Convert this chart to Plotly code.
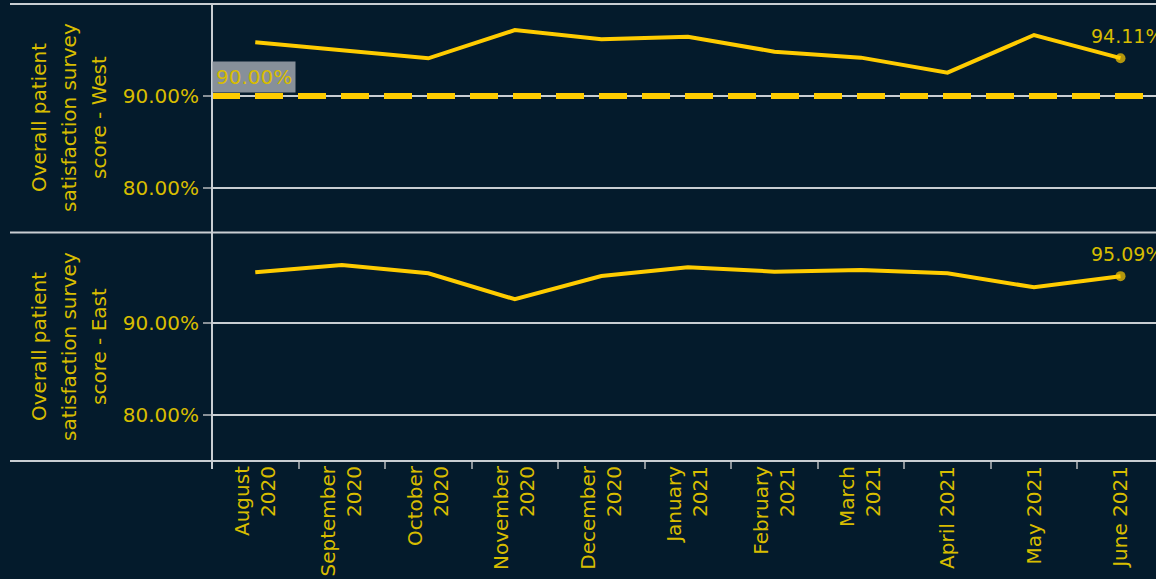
import plotly.graph_objects as go

months = ["August<br>2020", "September<br>2020", "October<br>2020", "November<br>2020",
          "December<br>2020", "January<br>2021", "February<br>2021", "March<br>2021",
          "April 2021", "May 2021", "June 2021"]
west = [95.84, 94.95, 94.10, 97.17, 96.16, 96.45, 94.82, 94.17, 92.54, 96.63, 94.11]
east = [95.51, 96.30, 95.40, 92.58, 95.11, 96.05, 95.58, 95.76, 95.40, 93.88, 95.09]
target_west = 90.0
y_ticks = [80, 90]
y_tick_text = ["80.00%", "90.00%"]
title_lines = [["Overall patient", "satisfaction survey", "score - West"],
               ["Overall patient", "satisfaction survey", "score - East"]]

BG = "#041b2c"
LINE = "#ffcc00"
TXT = "#d8bd00"
GRID = "#c9ced2"
TICKC = "#8a9298"
FONT = "DejaVu Sans"

# layout geometry (figure pixels)
L, T, B, W, H = 212, 4, 118, 1156, 579
PH = H - T - B  # 457
PW = W - L
top_dom = [(PH - 228) / PH, 1.0]
bot_dom = [0.0, (PH - 229) / PH]

fig = go.Figure()
n = len(months)
for vals, xa, ya in [(west, "x", "y"), (east, "x2", "y2")]:
    fig.add_trace(go.Scatter(
        x=months, y=vals, mode="lines+markers", xaxis=xa, yaxis=ya,
        line=dict(color=LINE, width=4),
        marker=dict(size=[0] * (n - 1) + [10], color=LINE, line=dict(width=0)),
        hoverinfo="skip", showlegend=False, cliponaxis=False))

axis_common = dict(tickvals=y_ticks, ticktext=y_tick_text, showgrid=True, gridcolor=GRID,
                   gridwidth=1.5, zeroline=False, showline=False, ticks="outside", ticklen=8,
                   tickcolor=TICKC, tickwidth=1.5,
                   tickfont=dict(family=FONT, size=20, color=TXT))
fig.update_layout(
    width=W, height=H,
    margin=dict(l=L, r=0, t=T, b=B),
    paper_bgcolor=BG, plot_bgcolor=BG,
    font=dict(family=FONT, color=TXT),
    yaxis=dict(domain=top_dom, range=[75.22, 100.0], **axis_common),
    yaxis2=dict(domain=bot_dom, range=[75.0, 99.78], **axis_common),
    xaxis=dict(anchor="y", type="category", range=[-0.5, 10.41], showticklabels=False,
               ticks="", showgrid=False, zeroline=False, showline=False, matches="x2"),
    xaxis2=dict(anchor="y2", type="category", range=[-0.5, 10.41], tickson="boundaries",
                ticks="outside", ticklen=7, tickcolor=TICKC, tickwidth=1.5,
                showgrid=False, zeroline=False, showline=False, tickangle=-90,
                tickfont=dict(family=FONT, size=20, color=TXT)),
)

# reference line
fig.add_shape(type="line", xref="x domain", x0=0, x1=1, yref="y", y0=target_west, y1=target_west,
              line=dict(color=LINE, width=6, dash="28px,15px"), layer="above")
fig.add_annotation(x=-0.5, y=target_west, xref="x", yref="y", text="90.00%", showarrow=False,
                   xanchor="left", yanchor="bottom", yshift=3, bgcolor="#87909a",
                   borderpad=3, font=dict(family=FONT, size=20, color=TXT))

# panel borders
bx0 = (10 - L) / PW
sep = (top_dom[0] + bot_dom[1]) / 2
for yy in [1.0, sep, 0.0]:
    fig.add_shape(type="line", xref="paper", yref="paper", x0=bx0, x1=1.0, y0=yy, y1=yy,
                  line=dict(color=GRID, width=2), layer="above")
fig.add_shape(type="line", xref="paper", yref="paper", x0=0, x1=0, y0=-8 / PH, y1=1.0,
              line=dict(color=GRID, width=2), layer="above")

# last value labels
for vals, xa, ya in [(west, "x", "y"), (east, "x2", "y2")]:
    fig.add_annotation(x=n - 1, y=vals[-1], xref=xa, yref=ya, text=f"{vals[-1]:.2f}%",
                       showarrow=False, yanchor="bottom", yshift=9, xshift=6,
                       font=dict(family=FONT, size=19, color=TXT))

# axis titles, one line per annotation
centers_y = [(PH - 114) / PH, (PH - 343) / PH]
line_x = [39, 69, 99]
for lines, cy in zip(title_lines, centers_y):
    for txt, lx in zip(lines, line_x):
        fig.add_annotation(x=(lx - L) / PW, y=cy, xref="paper", yref="paper", text=txt,
                           textangle=-90, showarrow=False, xanchor="center", yanchor="middle",
                           font=dict(family=FONT, size=20, color=TXT))

fig.write_html(
    "out.html",
    config={"displayModeBar": False},
    post_script="document.body.style.margin='0px';document.body.style.background='#041b2c';",
)
